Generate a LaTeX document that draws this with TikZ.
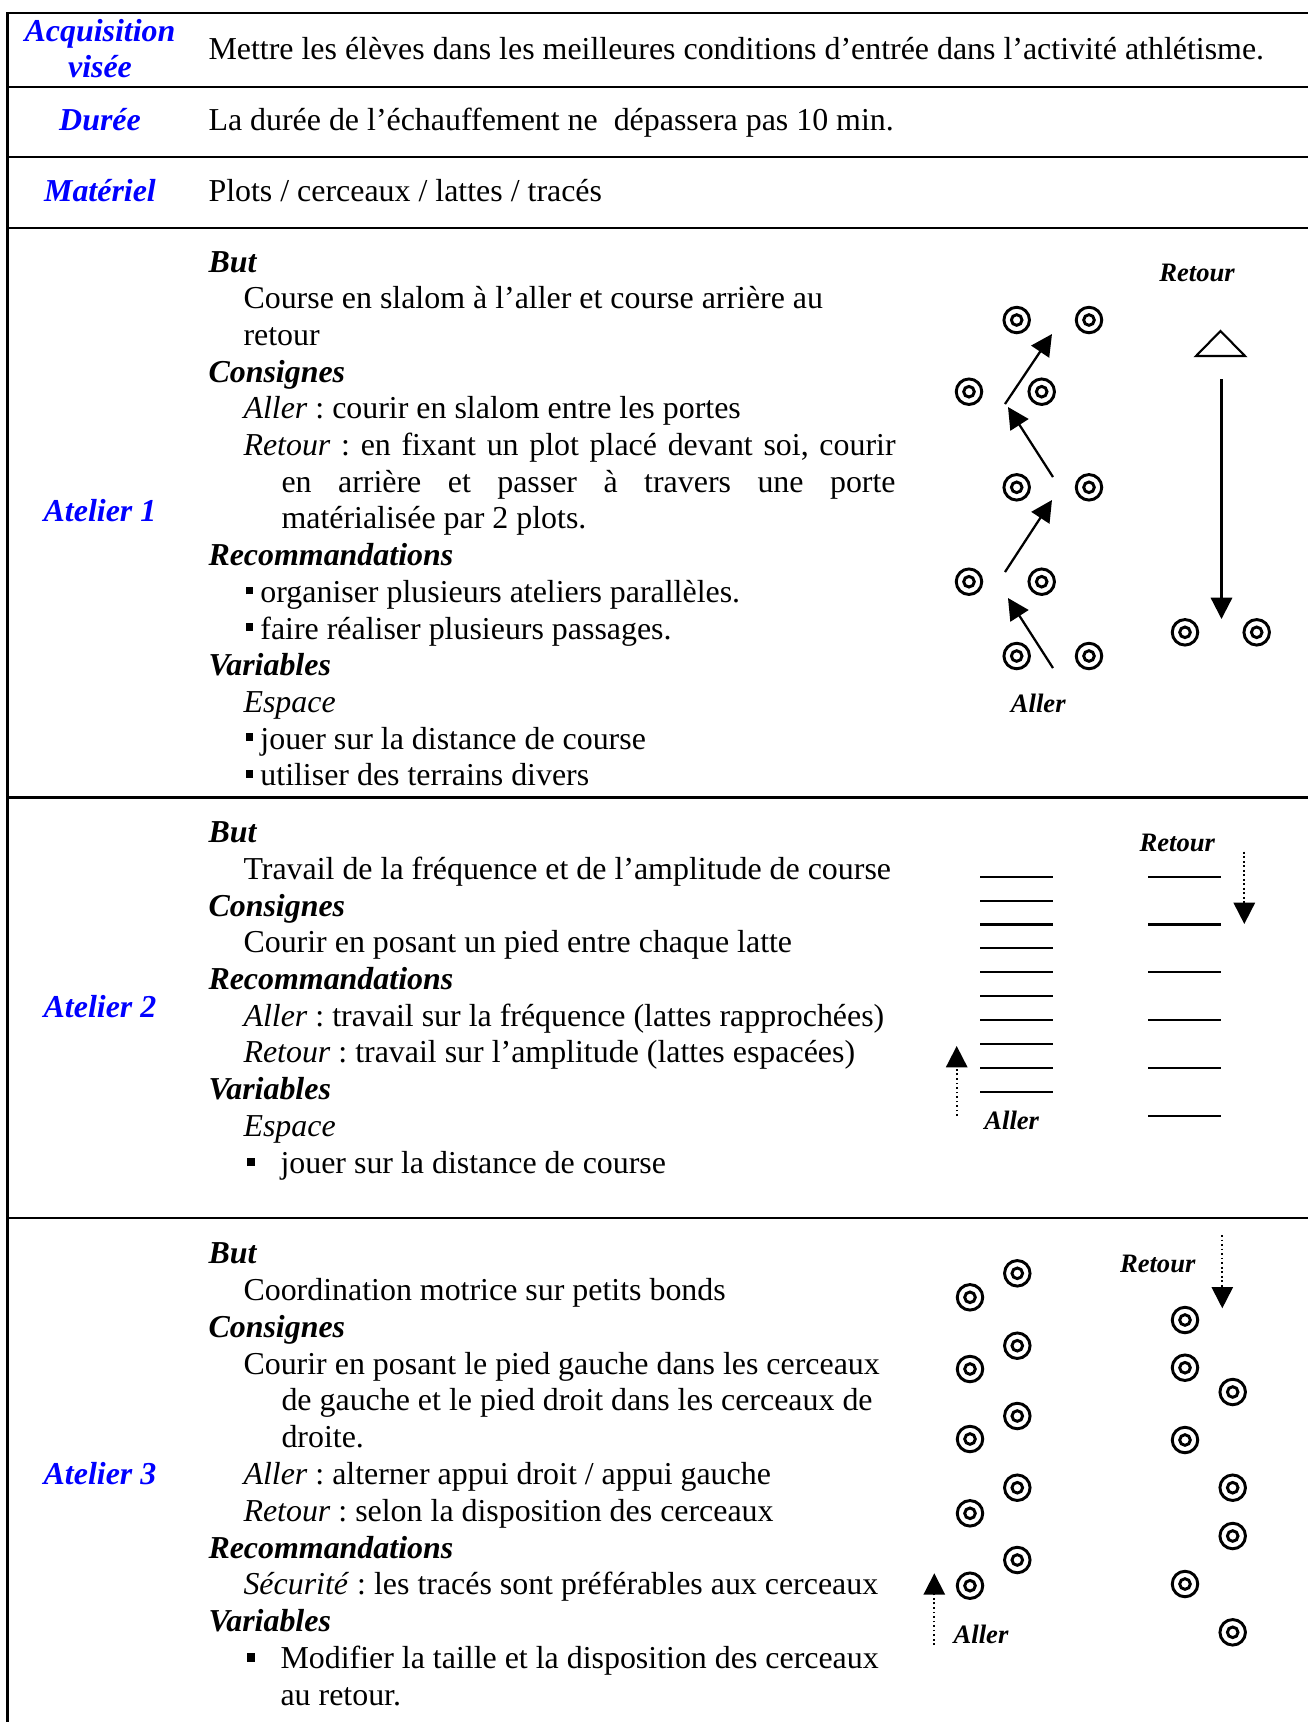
\documentclass[tikz,border=0pt,12pt]{standalone}
\usepackage{fontspec}
\setmainfont{Liberation Serif}
\usetikzlibrary{arrows.meta}
\tikzset{>={Triangle[length=8pt,width=8pt]}}
\tikzset{
  entete/.style={text=blue,font=\bfseries\itshape,anchor=base,inner sep=0pt},
  rubrique/.style={font=\bfseries\itshape,anchor=base west,inner sep=0pt},
  ligne/.style={anchor=base west,inner sep=0pt},
  legende/.style={font=\footnotesize\bfseries\itshape,inner sep=0pt},
  plot/.style={circle,draw,line width=1.1pt,minimum size=9.6pt,inner sep=0pt,
    path picture={\draw[line width=1.1pt] (path picture bounding box.center) circle (2pt);}},
  latte/.style={line width=0.8pt},
  fleche/.style={->,line width=0.85pt},
  pointille/.style={->,line width=0.7pt,dash pattern=on 0.7pt off 1pt},
  cadre/.style={line width=0.9pt}
}
\newcommand{\puce}{\rule[3pt]{2.9pt}{2.9pt}}
\newcommand{\grandepuce}{\rule[2.6pt]{3.1pt}{3.1pt}}
\frenchspacing

\begin{document}
\begin{tikzpicture}[x=0.376pt,y=-0.376pt]
\useasboundingbox (0,0) rectangle (1308,1722);

% Cadre du tableau
\foreach \y in {12.7,86.7,156.7,227.7,797.3,1218}
  \draw[cadre] (7.5,\y) -- (1308,\y);
\draw[cadre] (7.5,12.3) -- (7.5,1722);

% En-tetes
\node[entete] (acq) at (100,41) {Acquisition};
\node[entete] (vis) at (100,77.5) {visée};
\node[ligne] (objtxt) at (208,59) {Mettre les élèves dans les meilleures conditions d’entrée dans l’activité athlétisme.};
\node[entete] (dur) at (100,130.3) {Durée};
\node[ligne] (durtxt) at (208,130.3) {La durée de l’échauffement ne\ \ dépassera pas 10 min.};
\node[entete] (mat) at (100,201.7) {Matériel};
\node[ligne] (mattxt) at (208,201.7) {Plots / cerceaux / lattes / tracés};

% Atelier 1
\node[entete] (at1) at (100,521.3) {Atelier 1};
\node[rubrique] (a1but) at (208,272) {But};
\node[ligne] (a1l1) at (243,308.7) {Course en slalom à l’aller et course arrière au};
\node[ligne] (a1l2) at (243,345.4) {retour};
\node[rubrique] (a1cons) at (208,382.1) {Consignes};
\node[ligne] (a1l3) at (243,418.8) {\textit{Aller} : courir en slalom entre les portes};
\node[ligne] (a1l4) at (243,455.5) {\makebox[245.2pt][s]{\textit{Retour} : en fixant un plot placé devant soi, courir}};
\node[ligne] (a1l5) at (281,492.2) {\makebox[230.9pt][s]{en arrière et passer à travers une porte}};
\node[ligne] (a1l6) at (281,528.9) {matérialisée par 2 plots.};
\node[rubrique] (a1rec) at (208,565.6) {Recommandations};
\node[ligne] (a1l7) at (245,602.3) {\puce\hspace{2.7pt}organiser plusieurs ateliers parallèles.};
\node[ligne] (a1l8) at (245,639) {\puce\hspace{2.7pt}faire réaliser plusieurs passages.};
\node[rubrique] (a1var) at (208,675.7) {Variables};
\node[ligne] (a1l9) at (243,712.4) {\textit{Espace}};
\node[ligne] (a1l10) at (245,749.1) {\puce\hspace{2.7pt}jouer sur la distance de course};
\node[ligne] (a1l11) at (245,785.8) {\puce\hspace{2.7pt}utiliser des terrains divers};

% Slalom et course arriere
\foreach \x/\y [count=\i] in {1016.7/320,1089/320,969/391.7,1041.7/391.7,1016.7/487.3,1089/487.3,969/581.7,1041.7/581.7,1016.7/656,1089/656,1185/632.3,1256.7/632.3}
  \node[plot] (pa\i) at (\x,\y) {};
\coordinate (sa0) at (1053,668);
\coordinate (sa1) at (1008,598);
\coordinate (sa2) at (1005,572);
\coordinate (sa3) at (1052,500);
\coordinate (sa4) at (1053,477);
\coordinate (sa5) at (1008,407);
\coordinate (sa6) at (1005,404);
\coordinate (sa7) at (1052,334);
\draw[fleche] (sa0) -- (sa1);
\draw[fleche] (sa2) -- (sa3);
\draw[fleche] (sa4) -- (sa5);
\draw[fleche] (sa6) -- (sa7);
\draw[line width=0.8pt] (1196,356) -- (1220.5,331) -- (1245,356) -- cycle;
\coordinate (ra0) at (1221.5,379);
\coordinate (ra1) at (1221.5,619);
\draw[fleche] (ra0) -- (ra1);
\node[legende] (ret1) at (1197,273) {Retour};
\node[legende] (all1) at (1038.3,703) {Aller};

% Atelier 2
\node[entete] (at2) at (100,1017.5) {Atelier 2};
\node[rubrique] (a2but) at (208,842.7) {But};
\node[ligne] (a2l1) at (243,879.4) {Travail de la fréquence et de l’amplitude de course};
\node[rubrique] (a2cons) at (208,916.1) {Consignes};
\node[ligne] (a2l2) at (243,952.8) {Courir en posant un pied entre chaque latte};
\node[rubrique] (a2rec) at (208,989.5) {Recommandations};
\node[ligne] (a2l3) at (243,1026.2) {\textit{Aller} : travail sur la fréquence (lattes rapprochées)};
\node[ligne] (a2l4) at (243,1062.9) {\textit{Retour} : travail sur l’amplitude (lattes espacées)};
\node[rubrique] (a2var) at (208,1099.6) {Variables};
\node[ligne] (a2l5) at (243,1136.3) {\textit{Espace}};
\node[ligne] (a2puce) at (246,1173) {\grandepuce};
\node[ligne] (a2l6) at (280,1173) {jouer sur la distance de course};

% Lattes
\foreach \k in {0,...,9}
  \draw[latte] (980,{876.7+23.9*\k}) -- (1053.3,{876.7+23.9*\k});
\foreach \k in {0,...,5}
  \draw[latte] (1148,{876.7+47.8*\k}) -- (1221,{876.7+47.8*\k});
\coordinate (rb0) at (1244.3,851.7);
\coordinate (rb1) at (1244.3,924);
\draw[pointille] (rb0) -- (rb1);
\coordinate (ab0) at (956.7,1116);
\coordinate (ab1) at (956.7,1046);
\draw[pointille] (ab0) -- (ab1);
\node[legende] (ret2) at (1177.3,843.3) {Retour};
\node[legende] (all2) at (1011.7,1120) {Aller};

% Atelier 3
\node[entete] (at3) at (100,1484.4) {Atelier 3};
\node[rubrique] (a3but) at (208,1263.6) {But};
\node[ligne] (a3l1) at (243,1300.4) {Coordination motrice sur petits bonds};
\node[rubrique] (a3cons) at (208,1337.2) {Consignes};
\node[ligne] (a3l2) at (243,1374) {Courir en posant le pied gauche dans les cerceaux};
\node[ligne] (a3l3) at (281,1410.8) {de gauche et le pied droit dans les cerceaux de};
\node[ligne] (a3l4) at (281,1447.6) {droite.};
\node[ligne] (a3l5) at (243,1484.4) {\textit{Aller} : alterner appui droit / appui gauche};
\node[ligne] (a3l6) at (243,1521.2) {\textit{Retour} : selon la disposition des cerceaux};
\node[rubrique] (a3rec) at (208,1558) {Recommandations};
\node[ligne] (a3l7) at (243,1594.8) {\textit{Sécurité} : les tracés sont préférables aux cerceaux};
\node[rubrique] (a3var) at (208,1631.6) {Variables};
\node[ligne] (a3puce) at (246,1668.4) {\grandepuce};
\node[ligne] (a3l8) at (280,1668.4) {Modifier la taille et la disposition des cerceaux};
\node[ligne] (a3l9) at (280,1705.2) {au retour.};

% Cerceaux
\foreach \y [count=\i] in {1297.3,1369,1439,1513.3,1585.7}
  \node[plot] (pg\i) at (970,\y) {};
\foreach \y [count=\i] in {1273.3,1345.7,1416,1487.7,1560}
  \node[plot] (pd\i) at (1017.3,\y) {};
\foreach \y [count=\i] in {1320,1367.7,1440,1584}
  \node[plot] (rg\i) at (1185,\y) {};
\foreach \y [count=\i] in {1392,1487.7,1536,1632.3}
  \node[plot] (rd\i) at (1232.7,\y) {};
\coordinate (rc0) at (1222.3,1235);
\coordinate (rc1) at (1222.3,1308.3);
\draw[pointille] (rc0) -- (rc1);
\coordinate (ac0) at (934.3,1645);
\coordinate (ac1) at (934.3,1573.3);
\draw[pointille] (ac0) -- (ac1);
\node[legende] (ret3) at (1157.7,1264.3) {Retour};
\node[legende] (all3) at (981,1634.3) {Aller};

\end{tikzpicture}
\end{document}
